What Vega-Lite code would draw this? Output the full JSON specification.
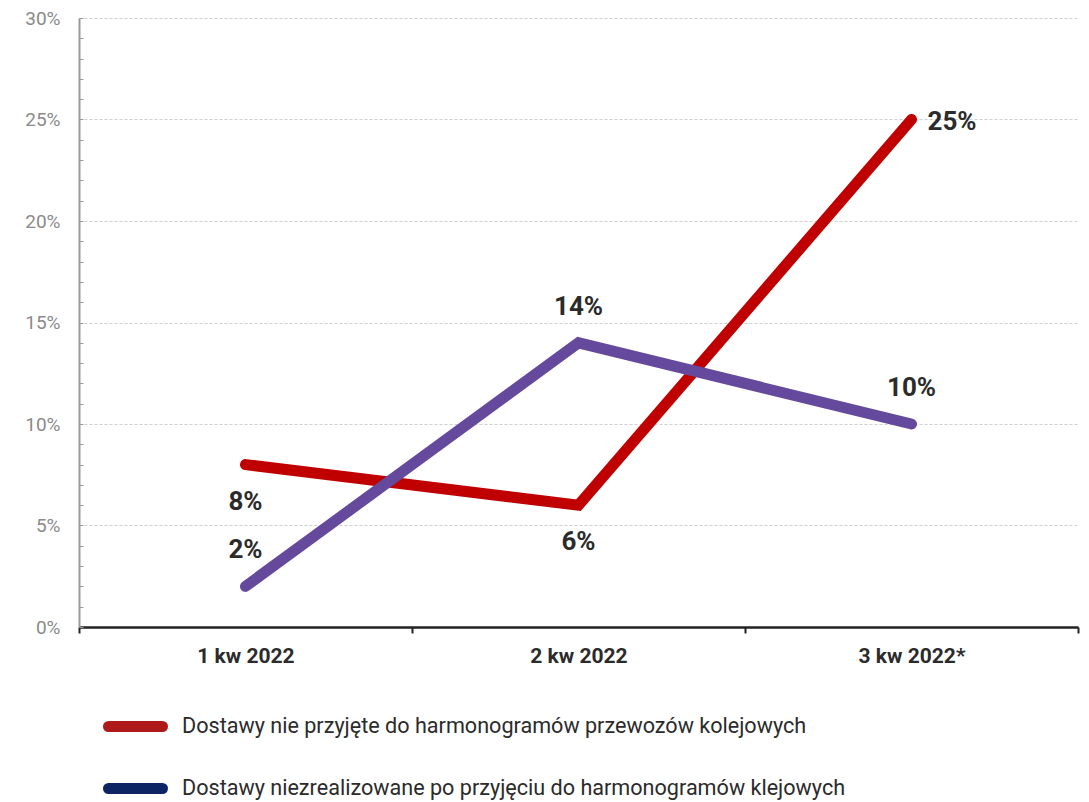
{
  "$schema": "https://vega.github.io/schema/vega-lite/v6.json",
  "autosize": "none",
  "width": 999,
  "height": 609,
  "padding": {"left": 79, "top": 18, "right": 11, "bottom": 175},
  "background": "white",
  "config": {
    "font": "Roboto",
    "view": {"stroke": null}
  },
  "data": {
    "values": [
      {"kwartal": "1 kw 2022", "seria": "Dostawy nie przyjęte do harmonogramów przewozów kolejowych", "wartosc": 0.08},
      {"kwartal": "2 kw 2022", "seria": "Dostawy nie przyjęte do harmonogramów przewozów kolejowych", "wartosc": 0.06},
      {"kwartal": "3 kw 2022*", "seria": "Dostawy nie przyjęte do harmonogramów przewozów kolejowych", "wartosc": 0.25},
      {"kwartal": "1 kw 2022", "seria": "Dostawy niezrealizowane po przyjęciu do harmonogramów klejowych", "wartosc": 0.02},
      {"kwartal": "2 kw 2022", "seria": "Dostawy niezrealizowane po przyjęciu do harmonogramów klejowych", "wartosc": 0.14},
      {"kwartal": "3 kw 2022*", "seria": "Dostawy niezrealizowane po przyjęciu do harmonogramów klejowych", "wartosc": 0.10}
    ]
  },
  "encoding": {
    "x": {
      "field": "kwartal", "type": "nominal", "sort": null,
      "scale": {"paddingInner": 0, "paddingOuter": 0},
      "axis": {
        "title": null, "labelAngle": 0, "tickBand": "extent",
        "labelFont": "Roboto", "labelFontSize": 21, "labelFontWeight": "bold", "labelColor": "#2b2b2b",
        "labelPadding": 12, "tickSize": 6, "tickColor": "#222", "tickWidth": 2,
        "domainColor": "#222", "domainWidth": 2.5, "grid": false
      }
    },
    "y": {
      "field": "wartosc", "type": "quantitative",
      "scale": {"domain": [0, 0.3], "nice": false},
      "axis": {
        "title": null,
        "values": [0, 0.01, 0.02, 0.03, 0.04, 0.05, 0.06, 0.07, 0.08, 0.09, 0.1, 0.11, 0.12, 0.13, 0.14, 0.15, 0.16, 0.17, 0.18, 0.19, 0.2, 0.21, 0.22, 0.23, 0.24, 0.25, 0.26, 0.27, 0.28, 0.29, 0.3],
        "labelExpr": "round(datum.value*100) % 5 === 0 ? round(datum.value*100) + '%' : ''",
        "labelFont": "Roboto", "labelFontSize": 19, "labelColor": "#8a8a8a",
        "labelPadding": 23, "tickSize": -4, "tickColor": "#999", "tickWidth": 1,
        "domainColor": "#999", "domainWidth": 2,
        "grid": true, "gridColor": "#cfcfcf", "gridDash": [3, 2], "gridWidth": 1,
        "gridOpacity": {"condition": {"test": "round(datum.value*100) % 5 === 0 && datum.value > 0", "value": 1}, "value": 0}
      }
    }
  },
  "layer": [
    {
      "mark": {"type": "line", "strokeWidth": 11, "opacity": 0},
      "encoding": {
        "stroke": {
          "field": "seria", "type": "nominal",
          "scale": {
            "domain": ["Dostawy nie przyjęte do harmonogramów przewozów kolejowych", "Dostawy niezrealizowane po przyjęciu do harmonogramów klejowych"],
            "range": ["#AE1A1A", "#0E2563"]
          },
          "legend": {
            "title": null, "orient": "none", "legendX": 24, "legendY": 676, "direction": "vertical",
            "symbolType": "stroke", "symbolSize": 2916, "symbolStrokeWidth": 11, "symbolOpacity": 1,
            "labelFont": "Roboto", "labelFontSize": 21.6, "labelColor": "#2b2b2b", "labelLimit": 900,
            "labelOffset": 14, "rowPadding": 7,
            "encode": {"symbols": {"update": {"strokeCap": {"value": "round"}, "opacity": {"value": 1}, "strokeOpacity": {"value": 1}}}}
          }
        }
      }
    },
    {
      "mark": {"type": "line", "strokeWidth": 11, "strokeCap": "round", "strokeJoin": "miter"},
      "encoding": {
        "color": {
          "field": "seria", "type": "nominal",
          "scale": {
            "domain": ["Dostawy nie przyjęte do harmonogramów przewozów kolejowych", "Dostawy niezrealizowane po przyjęciu do harmonogramów klejowych"],
            "range": ["#C00000", "#65499C"]
          },
          "legend": null
        }
      }
    },
    {
      "transform": [{"filter": "datum.seria === 'Dostawy nie przyjęte do harmonogramów przewozów kolejowych' && datum.kwartal !== '3 kw 2022*'"}],
      "mark": {"type": "text", "dy": 37, "fontSize": 26, "fontWeight": "bold", "color": "#2b2b2b", "baseline": "middle"},
      "encoding": {"text": {"field": "wartosc", "type": "quantitative", "format": ".0%"}}
    },
    {
      "transform": [{"filter": "datum.seria === 'Dostawy nie przyjęte do harmonogramów przewozów kolejowych' && datum.kwartal === '3 kw 2022*'"}],
      "mark": {"type": "text", "dx": 16, "dy": 2, "align": "left", "fontSize": 26, "fontWeight": "bold", "color": "#2b2b2b", "baseline": "middle"},
      "encoding": {"text": {"field": "wartosc", "type": "quantitative", "format": ".0%"}}
    },
    {
      "transform": [{"filter": "datum.seria === 'Dostawy niezrealizowane po przyjęciu do harmonogramów klejowych'"}],
      "mark": {"type": "text", "dy": -36, "fontSize": 26, "fontWeight": "bold", "color": "#2b2b2b", "baseline": "middle"},
      "encoding": {"text": {"field": "wartosc", "type": "quantitative", "format": ".0%"}}
    }
  ]
}
